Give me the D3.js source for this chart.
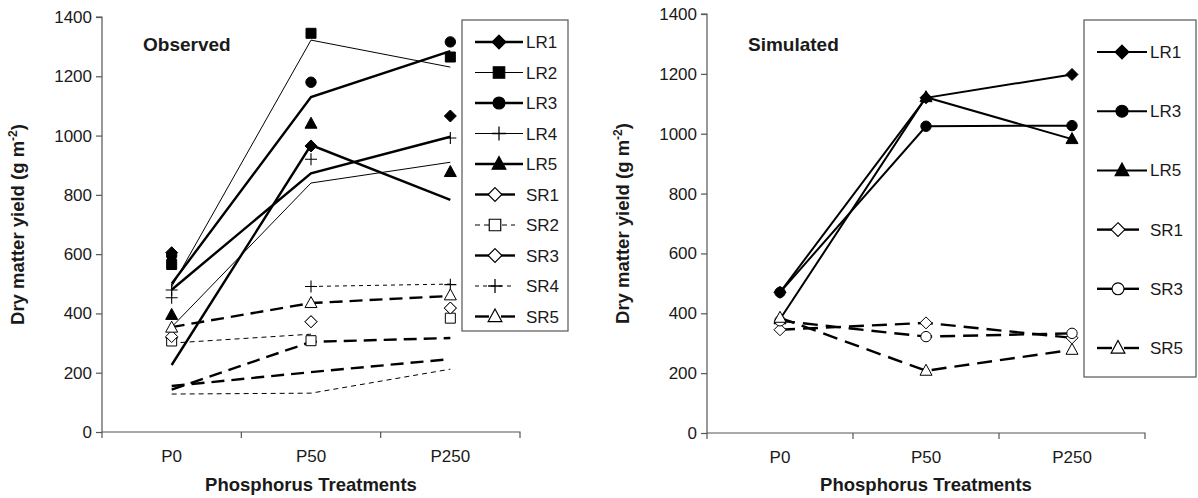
<!DOCTYPE html>
<html>
<head>
<meta charset="utf-8">
<script src="https://cdnjs.cloudflare.com/ajax/libs/d3/7.8.5/d3.min.js"></script>
<style>
body { margin: 0; background: #fff; }
text { font-family: "Liberation Sans", Arial, sans-serif; fill: #1a1a1a; }
.axis path, .axis line { stroke: #555; stroke-width: 1.2px; }
.axis text { font-size: 17px; }
</style>
</head>
<body>
<svg></svg>
<script>
var categories = ["P0", "P50", "P250"];
var yTicks = [0, 200, 400, 600, 800, 1000, 1200, 1400];

// observed points (left panel)
var obsNames = ["LR1", "LR2", "LR3", "LR4", "LR5", "SR1", "SR2", "SR3", "SR4", "SR5"];
var obsLR1 = [605, 965, 1066];
var obsLR2 = [565, 1345, 1265];
var obsLR3 = [595, 1180, 1316];
var obsLR4 = [479, 920, 992];
var obsLR5 = [395, 1040, 877];
var obsSR1 = [318, 372, 418];
var obsSR2 = [307, 308, 384];
var obsSR3 = [322, 372, 418];
var obsSR4 = [453, 491, 497];
var obsSR5 = [352, 435, 461];

// fitted lines drawn in the observed panel (null = no segment)
var fitLR1 = [480, 873, 996];
var fitLR2 = [490, 1322, 1231];
var fitLR3 = [500, 1130, 1285];
var fitLR4 = [354, 840, 910];
var fitLR5 = [226, 968, 783];
var fitSR1 = [155, 202, 246];
var fitSR2 = [128, 131, 212];
var fitSR3 = [143, 304, 317];
var fitSR4a = [300, 330, null];
var fitSR4b = [null, 491, 499];
var fitSR5 = [354, 435, 459];

// simulated (right panel)
var simNames = ["LR1", "LR3", "LR5", "SR1", "SR3", "SR5"];
var simLR1 = [470, 1120, 1198];
var simLR3 = [470, 1025, 1027];
var simLR5 = [380, 1122, 982];
var simSR1 = [345, 368, 318];
var simSR3 = [375, 322, 333];
var simSR5 = [385, 208, 278];

var styles = {
    LR1: {shape: "diamond", fill: "#000", width: 2.4, dash: null},
    LR2: {shape: "square", fill: "#000", width: 1, dash: null},
    LR3: {shape: "circle", fill: "#000", width: 2.4, dash: null},
    LR4: {shape: "plus", fill: "none", width: 1, dash: null},
    LR5: {shape: "triangle", fill: "#000", width: 2.4, dash: null},
    SR1: {shape: "diamond", fill: "#fff", width: 2.4, dash: "13,7"},
    SR2: {shape: "square", fill: "#fff", width: 1, dash: "5,4"},
    SR3: {shape: "diamond", fill: "#fff", width: 2.4, dash: "13,7"},
    SR4: {shape: "plus", fill: "none", width: 1, dash: "4,4"},
    SR5: {shape: "triangle", fill: "#fff", width: 2.4, dash: "13,7"}
};
var simStyles = {
    LR1: {shape: "diamond", fill: "#000", width: 2, dash: null},
    LR3: {shape: "circle", fill: "#000", width: 2, dash: null},
    LR5: {shape: "triangle", fill: "#000", width: 2, dash: null},
    SR1: {shape: "diamond", fill: "#fff", width: 2.4, dash: "15,8"},
    SR3: {shape: "circle", fill: "#fff", width: 2.4, dash: "15,8"},
    SR5: {shape: "triangle", fill: "#fff", width: 2.4, dash: "15,8"}
};

var svg = d3.select("svg").attr("width", 1198).attr("height", 498);

var marker = function(g, s, x, y, big)
{
    var k = big ? 1.15 : 1;
    var t = "translate(" + x + "," + y + ") scale(" + k + ")";
    if (s.shape == "plus") {
        g.append("path").attr("d", "M-6,0H6M0,-6V6").attr("transform", t)
        .attr("stroke", "#000").attr("stroke-width", 1.1).attr("fill", "none");
        return;
    }
    var d;
    if (s.shape == "diamond") d = "M0,-6L6,0L0,6L-6,0Z";
    else if (s.shape == "square") d = "M-5,-5H5V5H-5Z";
    else if (s.shape == "triangle") d = "M0,-6.5L6,4.5H-6Z";
    else d = d3.symbol().type(d3.symbolCircle).size(85)();
    g.append("path").attr("d", d).attr("transform", t)
    .attr("fill", s.fill).attr("stroke", "#000").attr("stroke-width", 1);
}

var drawAxes = function(xScale, yScale, x0, title)
{
    svg.append("g").classed("axis", true)
    .attr("transform", "translate(" + x0 + ",0)")
    .call(d3.axisLeft(yScale).tickValues(yTicks).tickSize(6).tickPadding(4).tickFormat(d3.format("d")))
    .call(function(g){ g.select(".domain").attr("d", "M-6," + yScale(1400) + "H0V" + yScale(0)); });

    var xa = svg.append("g").classed("axis", true)
    .attr("transform", "translate(0," + yScale(0) + ")")
    .call(d3.axisBottom(xScale).tickSize(0).tickPadding(18));
    xa.select(".domain").attr("d", "M" + xScale.range()[0] + ",0H" + xScale.range()[1] + "V6");
    var edges = categories.map(function(c){ return xScale(c); }).slice(1).concat([xScale.range()[0]]);
    xa.selectAll(".edge").data(edges).enter().append("line")
    .attr("x1", function(d){ return d; }).attr("x2", function(d){ return d; })
    .attr("y1", 0).attr("y2", 6);

    var cx = (xScale.range()[0] + xScale.range()[1]) / 2;
    svg.append("text").attr("x", cx).attr("y", 491).attr("text-anchor", "middle")
    .style("font-size", "18.5px").style("font-weight", "bold").text("Phosphorus Treatments");

    var yt = svg.append("text")
    .attr("transform", "translate(" + (x0 - 78) + "," + ((yScale(0) + yScale(1400)) / 2) + ") rotate(-90)")
    .attr("text-anchor", "middle").style("font-size", "18.5px").style("font-weight", "bold");
    yt.append("tspan").text("Dry matter yield (g m");
    yt.append("tspan").attr("dy", -7).style("font-size", "12px").text("-2");
    yt.append("tspan").attr("dy", 7).text(")");

    svg.append("text").attr("x", x0 + 41).attr("y", 51)
    .style("font-size", "19px").style("font-weight", "bold").text(title);
}

var drawLine = function(g, xScale, yScale, s, values)
{
    var line = d3.line()
    .defined(function(d){ return d != null; })
    .x(function(d, i){ return xScale(categories[i]) + xScale.bandwidth() / 2; })
    .y(function(d){ return yScale(d); });
    g.append("path").datum(values).attr("d", line)
    .attr("fill", "none").attr("stroke", "#000")
    .attr("stroke-width", s.width).attr("stroke-dasharray", s.dash);
}

var drawLegend = function(names, st, box, rowY, step, lineR)
{
    var g = svg.append("g");
    g.append("rect").attr("x", box[0]).attr("y", box[1]).attr("width", box[2]).attr("height", box[3])
    .attr("fill", "#fff").attr("stroke", "#555").attr("stroke-width", 1.2);
    names.forEach(function(n, i){
        var y = rowY + i * step;
        var s = st[n];
        var lr = n[0] == "L";
        var x1 = box[0] + 13;
        var x2 = lr ? x1 + lineR : x1 + lineR - 8;
        var mx = lr ? (x1 + x2) / 2 : (x1 + x2) / 2;
        if (lr || !s.dash || s.width < 2) {
            g.append("line").attr("x1", x1).attr("x2", x2).attr("y1", y).attr("y2", y)
            .attr("stroke", "#000").attr("stroke-width", s.width)
            .attr("stroke-dasharray", s.dash);
        } else {
            // long-dash entries show one dash on each side of the marker
            [[x1, mx - 6], [mx + 6, x2]].forEach(function(p){
                g.append("line").attr("x1", p[0]).attr("x2", p[1]).attr("y1", y).attr("y2", y)
                .attr("stroke", "#000").attr("stroke-width", s.width);
            });
        }
        marker(g, s, mx, y, true);
        g.append("text").attr("x", lr ? x2 + 3 : x2 + 11).attr("y", y + 6)
        .style("font-size", "17px").text(n);
    });
}

var setup = function()
{
    // left panel
    var xL = d3.scaleBand().domain(categories).range([102, 520]);
    var yL = d3.scaleLinear().domain([0, 1400]).range([432, 17]);
    drawAxes(xL, yL, 102, "Observed");

    var gl = svg.append("g");
    var fits = [["LR1", fitLR1], ["LR2", fitLR2], ["LR3", fitLR3], ["LR4", fitLR4], ["LR5", fitLR5],
                ["SR1", fitSR1], ["SR2", fitSR2], ["SR3", fitSR3], ["SR2", fitSR4a], ["SR4", fitSR4b], ["SR5", fitSR5]];
    fits.forEach(function(f){ drawLine(gl, xL, yL, styles[f[0]], f[1]); });

    var obs = [obsLR1, obsLR2, obsLR3, obsLR4, obsLR5, obsSR1, obsSR2, obsSR3, obsSR4, obsSR5];
    obs.forEach(function(vals, k){
        vals.forEach(function(v, i){
            marker(gl, styles[obsNames[k]], xL(categories[i]) + xL.bandwidth() / 2, yL(v), false);
        });
    });
    drawLegend(obsNames, styles, [462, 20, 106, 311], 42, 30.5, 48);

    // right panel
    var xR = d3.scaleBand().domain(categories).range([707, 1145]);
    var yR = d3.scaleLinear().domain([0, 1400]).range([433, 14]);
    drawAxes(xR, yR, 707, "Simulated");

    var gr = svg.append("g");
    var sims = [simLR1, simLR3, simLR5, simSR1, simSR3, simSR5];
    sims.forEach(function(vals, k){
        drawLine(gr, xR, yR, simStyles[simNames[k]], vals);
    });
    sims.forEach(function(vals, k){
        vals.forEach(function(v, i){
            marker(gr, simStyles[simNames[k]], xR(categories[i]) + xR.bandwidth() / 2, yR(v), false);
        });
    });
    drawLegend(simNames, simStyles, [1084, 20, 112, 357], 52, 59.2, 50);
}

setup();
</script>
</body>
</html>
